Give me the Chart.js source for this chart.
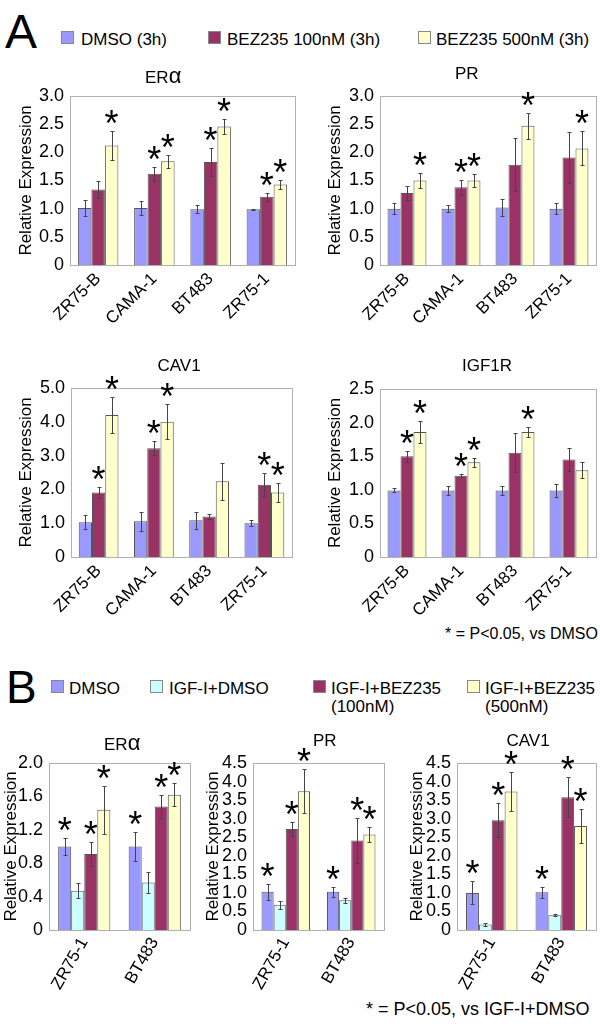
<!DOCTYPE html>
<html>
<head>
<meta charset="utf-8">
<script src="https://cdn.jsdelivr.net/npm/chart.js@4.4.1/dist/chart.umd.min.js"></script>
<style>
  body { margin: 0; width: 600px; height: 1032px; position: relative; background: #fff; overflow: hidden;
         font-family: "Liberation Sans", Arial, sans-serif; color: #000; }
  canvas { position: absolute; }
  .t { position: absolute; white-space: nowrap; font-size: 17px; line-height: 1; }
  .sq { position: absolute; width: 11px; height: 11px; border: 1px solid #888; }
  .big { position: absolute; font-size: 48px; line-height: 1; }
</style>
</head>
<body>

<div class="big" style="left:5px; top:8px;">A</div>
<div class="sq" style="left:61px; top:31px; background:#9999ff;"></div>
<div class="t" style="left:81px; top:31px;">DMSO (3h)</div>
<div class="sq" style="left:208px; top:31px; background:#993366;"></div>
<div class="t" style="left:227px; top:31px;">BEZ235 100nM (3h)</div>
<div class="sq" style="left:418px; top:31px; background:#ffffcc;"></div>
<div class="t" style="left:436px; top:31px;">BEZ235 500nM (3h)</div>

<div class="t" style="left:445px; top:626px; font-size:16px;">* = P&lt;0.05, vs DMSO</div>

<div class="big" style="left:6px; top:664px; font-size:46px;">B</div>
<div class="sq" style="left:51px; top:680px; background:#9999ff;"></div>
<div class="t" style="left:69px; top:680px;">DMSO</div>
<div class="sq" style="left:150px; top:680px; background:#ccffff;"></div>
<div class="t" style="left:169px; top:680px;">IGF-I+DMSO</div>
<div class="sq" style="left:313px; top:680px; background:#993366;"></div>
<div class="t" style="left:331px; top:680px; line-height:18px;">IGF-I+BEZ235<br>(100nM)</div>
<div class="sq" style="left:467px; top:680px; background:#ffffcc;"></div>
<div class="t" style="left:485px; top:680px; line-height:18px;">IGF-I+BEZ235<br>(500nM)</div>

<div class="t" style="left:366px; top:1000px; font-size:18px;">* = P&lt;0.05, vs IGF-I+DMSO</div>

<script>
// ---- data: panel A (3h BEZ235) ----
const cellsA = ["ZR75-B", "CAMA-1", "BT483", "ZR75-1"];
const seriesA = ["DMSO (3h)", "BEZ235 100nM (3h)", "BEZ235 500nM (3h)"];
const colorsA = ["#9999ff", "#993366", "#ffffcc"];

const eraMean = [[1.01, 1.01, 0.99, 0.99], [1.34, 1.62, 1.83, 1.21], [2.12, 1.84, 2.46, 1.43]];
const eraErr  = [[0.14, 0.12, 0.07, 0.01], [0.15, 0.12, 0.25, 0.07], [0.25, 0.11, 0.14, 0.08]];
const eraStar = [[0, 0, 0, 0], [0, 1, 1, 1], [1, 1, 1, 1]];

const prMean = [[1.0, 1.0, 1.02, 1.0], [1.28, 1.38, 1.78, 1.91], [1.5, 1.5, 2.47, 2.07]];
const prErr  = [[0.1, 0.06, 0.15, 0.1], [0.12, 0.13, 0.47, 0.45], [0.13, 0.12, 0.23, 0.3]];
const prStar = [[0, 0, 0, 0], [0, 1, 0, 0], [1, 1, 1, 1]];

const cavMean = [[1.03, 1.06, 1.09, 1.0], [1.91, 3.22, 1.2, 2.14], [4.2, 4.0, 2.24, 1.91]];
const cavErr  = [[0.2, 0.28, 0.25, 0.08], [0.15, 0.2, 0.07, 0.34], [0.54, 0.52, 0.54, 0.29]];
const cavStar = [[0, 0, 0, 0], [1, 1, 0, 1], [1, 1, 0, 1]];

const igfrMean = [[0.99, 0.99, 0.99, 0.99], [1.5, 1.21, 1.55, 1.45], [1.86, 1.41, 1.86, 1.29]];
const igfrErr  = [[0.03, 0.06, 0.06, 0.1], [0.08, 0.025, 0.29, 0.17], [0.16, 0.07, 0.08, 0.12]];
const igfrStar = [[0, 0, 0, 0], [1, 1, 0, 0], [1, 1, 1, 0]];

// ---- data: panel B (IGF-I stimulation) ----
const cellsB = ["ZR75-1", "BT483"];
const seriesB = ["DMSO", "IGF-I+DMSO", "IGF-I+BEZ235 (100nM)", "IGF-I+BEZ235 (500nM)"];
const colorsB = ["#9999ff", "#ccffff", "#993366", "#ffffcc"];

const bEraMean = [[1.0, 1.0], [0.47, 0.57], [0.91, 1.48], [1.44, 1.62]];
const bEraErr  = [[0.1, 0.17], [0.09, 0.13], [0.14, 0.14], [0.29, 0.14]];
const bPrMean  = [[1.03, 1.03], [0.68, 0.8], [2.72, 2.41], [3.74, 2.57]];
const bPrErr   = [[0.22, 0.13], [0.11, 0.06], [0.2, 0.6], [0.6, 0.2]];
const bCavMean = [[1.0, 1.02], [0.15, 0.4], [2.96, 3.58], [3.73, 2.8]];
const bCavErr  = [[0.31, 0.15], [0.03, 0.03], [0.46, 0.54], [0.53, 0.46]];
const bStar    = [[1, 1], [0, 0], [1, 1], [1, 1]];

const FONT = "'Liberation Sans', Arial, sans-serif";

// error bars, significance stars and the plot frame
const decorations = {
  id: "decorations",
  beforeDatasetsDraw(chart) {
    const { ctx, chartArea: a } = chart;
    ctx.save();
    ctx.strokeStyle = "#b0b0b0";
    ctx.lineWidth = 1;
    ctx.strokeRect(Math.round(a.left) + 0.5, Math.round(a.top) + 0.5,
                   Math.round(a.right - a.left), Math.round(a.bottom - a.top));
    ctx.restore();
  },
  afterDatasetsDraw(chart) {
    const { ctx } = chart;
    const y = chart.scales.y;
    chart.data.datasets.forEach((ds, i) => {
      const meta = chart.getDatasetMeta(i);
      meta.data.forEach((bar, j) => {
        const v = ds.data[j], e = ds.errors[j];
        const top = Math.round(y.getPixelForValue(v + e)) + 0.5;
        const bot = Math.round(y.getPixelForValue(v - e)) + 0.5;
        const x = Math.round(bar.x) + 0.5;
        ctx.save();
        ctx.strokeStyle = "#444";
        ctx.lineWidth = 1;
        ctx.beginPath();
        ctx.moveTo(x, top); ctx.lineTo(x, bot);
        ctx.moveTo(x - 2, top); ctx.lineTo(x + 2, top);
        ctx.moveTo(x - 2, bot); ctx.lineTo(x + 2, bot);
        ctx.stroke();
        if (ds.stars[j]) {
          ctx.fillStyle = "#000";
          ctx.font = "36px " + FONT;
          ctx.textAlign = "center";
          ctx.textBaseline = "alphabetic";
          ctx.fillText("*", bar.x, top + 4);
        }
        ctx.restore();
      });
    });
  }
};

function addTitle(text, cx, cy) {
  const d = document.createElement("div");
  d.className = "t";
  d.innerHTML = text;
  document.body.appendChild(d);
  d.style.left = (cx - d.offsetWidth / 2) + "px";
  d.style.top = (cy - 9) + "px";
}

function panel(p) {
  const canvasLeft = p.yTitleX - 10;
  const canvasTop = p.top - 20;
  const xAxisH = 75;
  const cv = document.createElement("canvas");
  cv.width = p.right + 4 - canvasLeft;
  cv.height = p.bottom + xAxisH - canvasTop;
  cv.style.left = canvasLeft + "px";
  cv.style.top = canvasTop + "px";
  document.body.appendChild(cv);

  const datasets = p.names.map((name, k) => ({
    label: name,
    data: p.mean[k],
    errors: p.err[k],
    stars: p.star[k],
    backgroundColor: p.colors[k],
    borderColor: "#555",
    borderWidth: 1,
    categoryPercentage: p.catPct,
    barPercentage: 1.0
  }));

  new Chart(cv.getContext("2d"), {
    type: "bar",
    data: { labels: p.cells, datasets },
    options: {
      responsive: false,
      animation: false,
      devicePixelRatio: 1,
      clip: false,
      layout: { padding: { left: 0, top: 20, right: 4, bottom: 0 } },
      plugins: { legend: { display: false }, tooltip: { enabled: false } },
      scales: {
        x: {
          grid: { display: false, drawTicks: false },
          border: { display: false },
          ticks: {
            autoSkip: false, minRotation: p.rot, maxRotation: p.rot, padding: 4,
            color: "#000", font: { family: FONT, size: 17 }
          },
          afterFit: s => { s.height = xAxisH; }
        },
        y: {
          min: 0, max: p.max,
          grid: { display: false, drawTicks: false },
          border: { display: false },
          ticks: {
            stepSize: p.step, autoSkip: false, padding: 6, color: "#000",
            font: { family: FONT, size: 18 },
            callback: v => (v === 0 ? "0" : v.toFixed(1))
          },
          title: {
            display: true, text: "Relative Expression", color: "#000",
            font: { family: FONT, size: 17 }, padding: { top: 0, bottom: 0 }
          },
          afterFit: s => { s.width = p.left - canvasLeft; }
        }
      }
    },
    plugins: [decorations]
  });

  addTitle(p.title, p.titleX, p.titleY);
}

const era = 'ER<span style="font-size:22px">&alpha;</span>';

panel({ title: era, titleX: 163, titleY: 74, yTitleX: 26, left: 70, right: 295, top: 96, bottom: 265,
        max: 3, step: 0.5, rot: 45, catPct: 0.72, cells: cellsA, names: seriesA, colors: colorsA,
        mean: eraMean, err: eraErr, star: eraStar });
panel({ title: "PR", titleX: 467, titleY: 74, yTitleX: 335, left: 380, right: 596, top: 96, bottom: 265,
        max: 3, step: 0.5, rot: 45, catPct: 0.72, cells: cellsA, names: seriesA, colors: colorsA,
        mean: prMean, err: prErr, star: prStar });
panel({ title: "CAV1", titleX: 179, titleY: 366, yTitleX: 26, left: 71, right: 292, top: 388, bottom: 557,
        max: 5, step: 1, rot: 45, catPct: 0.72, cells: cellsA, names: seriesA, colors: colorsA,
        mean: cavMean, err: cavErr, star: cavStar });
panel({ title: "IGF1R", titleX: 487, titleY: 366, yTitleX: 335, left: 380, right: 596, top: 389, bottom: 557,
        max: 2.5, step: 0.5, rot: 45, catPct: 0.72, cells: cellsA, names: seriesA, colors: colorsA,
        mean: igfrMean, err: igfrErr, star: igfrStar });

panel({ title: era, titleX: 122, titleY: 741, yTitleX: 11, left: 49, right: 190, top: 763, bottom: 930,
        max: 2, step: 0.4, rot: 60, catPct: 0.74, cells: cellsB, names: seriesB, colors: colorsB,
        mean: bEraMean, err: bEraErr, star: bStar });
panel({ title: "PR", titleX: 325, titleY: 741, yTitleX: 213, left: 253, right: 384, top: 763, bottom: 930,
        max: 4.5, step: 0.5, rot: 60, catPct: 0.74, cells: cellsB, names: seriesB, colors: colorsB,
        mean: bPrMean, err: bPrErr, star: bStar });
panel({ title: "CAV1", titleX: 528, titleY: 741, yTitleX: 417, left: 457, right: 596, top: 763, bottom: 930,
        max: 4.5, step: 0.5, rot: 60, catPct: 0.74, cells: cellsB, names: seriesB, colors: colorsB,
        mean: bCavMean, err: bCavErr, star: bStar });
</script>
</body>
</html>
